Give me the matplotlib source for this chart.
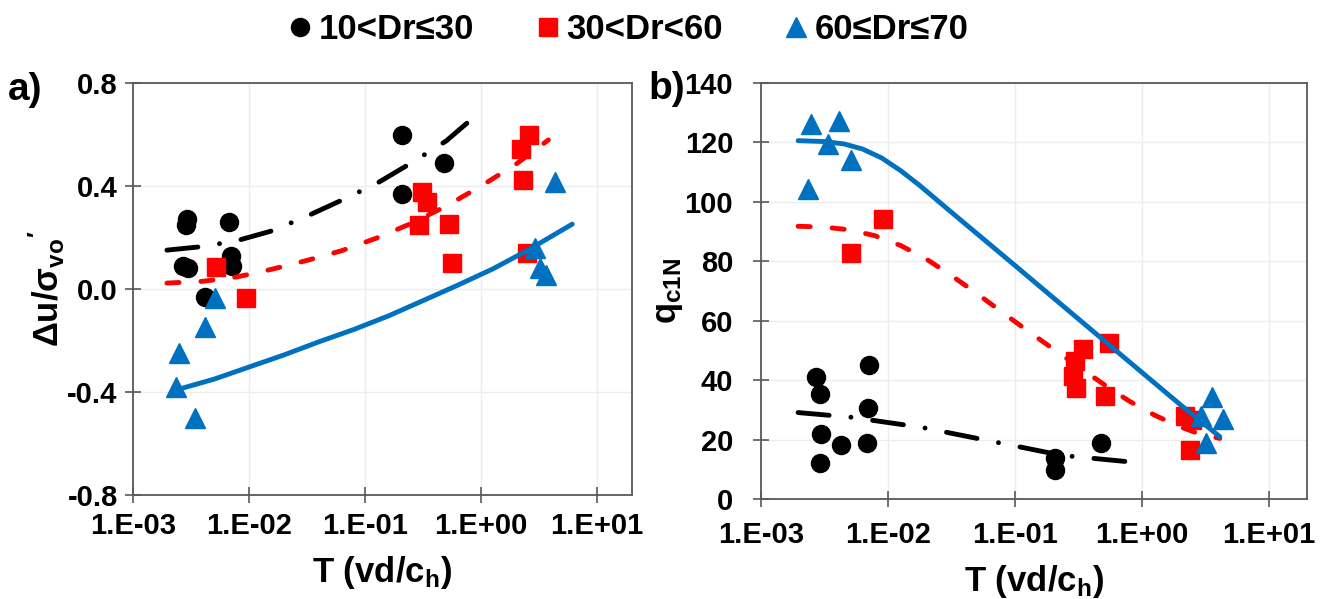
import matplotlib
matplotlib.use('Agg')
import matplotlib.pyplot as plt
from matplotlib.ticker import FixedLocator, NullLocator
import numpy as np

plt.rcParams['font.family'] = ['Liberation Sans', 'DejaVu Sans']
plt.rcParams['font.weight'] = 'bold'
plt.rcParams['axes.labelweight'] = 'bold'
plt.rcParams['mathtext.fontset'] = 'custom'
plt.rcParams['mathtext.rm'] = 'Liberation Sans:bold'
plt.rcParams['mathtext.it'] = 'Liberation Sans:bold'
plt.rcParams['mathtext.bf'] = 'Liberation Sans:bold'

BLACK = '#000000'
RED = '#FF0000'
BLUE = '#0070C0'

series_labels = ['10<Dr\u226430', '30<Dr<60', '60\u2264Dr\u226470']

# ---- panel a) : pore pressure ratio vs normalised velocity
a_loose_T = [2.9e-3, 2.85e-3, 6.7e-3, 2.7e-3, 3.0e-3, 7.0e-3, 7.2e-3, 4.2e-3, 0.208, 0.48, 0.208]
a_loose_du = [0.27, 0.25, 0.26, 0.09, 0.08, 0.13, 0.09, -0.03, 0.60, 0.49, 0.37]
a_med_T = [5.2e-3, 9.4e-3, 0.31, 0.342, 0.29, 0.53, 0.56, 2.6, 2.2, 2.3, 2.5]
a_med_du = [0.085, -0.035, 0.377, 0.338, 0.249, 0.252, 0.10, 0.598, 0.544, 0.423, 0.14]
a_dense_T = [4.35, 2.9, 3.2, 3.6, 5.1e-3, 4.2e-3, 2.5e-3, 2.35e-3, 3.4e-3]
a_dense_du = [0.415, 0.159, 0.082, 0.054, -0.035, -0.148, -0.249, -0.381, -0.501]

# trend lines
a_loose_fit_T = [1.96e-3, 4.0e-3, 7.9e-3, 1.58e-2, 3.16e-2, 6.3e-2, 0.126, 0.251, 0.50, 0.85]
a_loose_fit_du = [0.151, 0.165, 0.188, 0.226, 0.283, 0.345, 0.41, 0.49, 0.575, 0.664]
a_med_fit_T = [1.96e-3, 4.0e-3, 7.9e-3, 1.58e-2, 3.16e-2, 6.3e-2, 0.126, 0.251, 0.50, 1.0, 2.0, 3.8]
a_med_fit_du = [0.023, 0.030, 0.047, 0.077, 0.111, 0.149, 0.198, 0.255, 0.322, 0.40, 0.485, 0.579]
a_dense_fit_T = [2.35e-3, 5.0e-3, 1.0e-2, 2.0e-2, 4.0e-2, 7.9e-2, 0.158, 0.316, 0.63, 1.26, 2.51, 6.1]
a_dense_fit_du = [-0.392, -0.35, -0.303, -0.256, -0.205, -0.158, -0.105, -0.045, 0.015, 0.078, 0.150, 0.252]

# ---- panel b) : normalised cone resistance vs normalised velocity
b_loose_T = [2.7e-3, 2.9e-3, 7.1e-3, 7.0e-3, 2.97e-3, 4.27e-3, 6.8e-3, 2.9e-3, 0.207, 0.207, 0.475]
b_loose_q = [40.9, 35.5, 45.2, 30.5, 21.8, 18.1, 18.8, 12.1, 13.7, 9.7, 18.8]
b_med_T = [9.1e-3, 5.1e-3, 0.343, 0.55, 0.297, 0.286, 0.30, 0.51, 2.2, 2.5, 2.4]
b_med_q = [94.1, 82.7, 50.6, 52.6, 46.5, 41.5, 37.5, 34.8, 28.1, 26.5, 16.4]
b_dense_T = [2.48e-3, 4.1e-3, 3.4e-3, 5.1e-3, 2.35e-3, 3.56, 2.9, 4.35, 3.2]
b_dense_q = [126.3, 127.3, 119.6, 114.0, 104.2, 34.2, 28.1, 27.1, 18.8]

b_loose_fit_T = [1.96e-3, 5.2e-3, 1.85e-2, 6.6e-2, 0.234, 0.85]
b_loose_fit_q = [29.1, 27.5, 24.1, 19.4, 14.7, 12.4]
b_med_fit_T = [1.96e-3, 3.16e-3, 5.0e-3, 7.9e-3, 1.26e-2, 2.0e-2, 3.16e-2, 5.0e-2, 7.9e-2,
               0.126, 0.2, 0.316, 0.5, 0.79, 1.26, 2.0, 2.8, 4.1]
b_med_fit_q = [91.8, 91.5, 90.6, 88.6, 85.3, 80.8, 75.2, 69.2, 62.9,
               56.6, 50.5, 44.5, 38.6, 33.0, 28.2, 24.3, 22.0, 20.4]
b_dense_fit_T = [1.96e-3, 3.16e-3, 4.5e-3, 6.3e-3, 8.9e-3, 1.26e-2, 1.78e-2, 3.16e-2,
                 0.1, 0.316, 1.0, 2.0, 4.1]
b_dense_fit_q = [120.6, 120.3, 119.5, 117.8, 114.8, 110.5, 105.5, 96.5,
                 78.6, 60.6, 42.6, 31.8, 21.0]

xticks = [1e-3, 1e-2, 1e-1, 1e0, 1e1]
xticklabels = ['1.E-03', '1.E-02', '1.E-01', '1.E+00', '1.E+01']

fig = plt.figure(figsize=(13.26, 5.99), dpi=100)
ax1 = fig.add_axes([0.1003, 0.1736, 0.3763, 0.6878])
ax2 = fig.add_axes([0.5739, 0.1669, 0.4118, 0.6945])

lw = 3.5
dashdot = (0, (6.4, 4.5, 0.01, 4.5))
dashed = (0, (2.5, 4.5))


def style_axes(ax):
    ax.set_xscale('log')
    ax.set_xlim(1e-3, 10 ** 1.3)
    ax.xaxis.set_major_locator(FixedLocator(xticks))
    ax.xaxis.set_minor_locator(NullLocator())
    ax.set_xticklabels(xticklabels)
    ax.grid(True, color='#ECECEC', lw=1.0, zorder=0)
    ax.set_axisbelow(True)
    for s in ax.spines.values():
        s.set_color('#595959')
        s.set_linewidth(1.3)
    ax.tick_params(direction='inout', length=12, width=1.2, color='#595959', labelsize=21)
    ax.set_xlabel('T (vd/c$_h$)', fontsize=25, fontweight='bold', labelpad=10)


def draw(ax, loose, med, dense, fits):
    ax.plot(fits[0][0], fits[0][1], color=BLACK, lw=lw, ls=dashdot, dash_capstyle='round', zorder=4)
    ax.plot(fits[1][0], fits[1][1], color=RED, lw=lw, ls=dashed, dash_capstyle='round', zorder=4)
    ax.plot(fits[2][0], fits[2][1], color=BLUE, lw=lw, solid_capstyle='round',
            solid_joinstyle='round', zorder=4)
    ax.plot(loose[0], loose[1], ls='None', marker='o', ms=13, color=BLACK, zorder=3)
    ax.plot(med[0], med[1], ls='None', marker='s', ms=13, color=RED, zorder=3)
    ax.plot(dense[0], dense[1], ls='None', marker='^', ms=14, color=BLUE, zorder=3)


draw(ax1, (a_loose_T, a_loose_du), (a_med_T, a_med_du), (a_dense_T, a_dense_du),
     [(a_loose_fit_T, a_loose_fit_du), (a_med_fit_T, a_med_fit_du), (a_dense_fit_T, a_dense_fit_du)])
draw(ax2, (b_loose_T, b_loose_q), (b_med_T, b_med_q), (b_dense_T, b_dense_q),
     [(b_loose_fit_T, b_loose_fit_q), (b_med_fit_T, b_med_fit_q), (b_dense_fit_T, b_dense_fit_q)])

style_axes(ax1)
ax1.set_ylim(-0.8, 0.8)
ax1.yaxis.set_major_locator(FixedLocator([-0.8, -0.4, 0.0, 0.4, 0.8]))
ax1.set_yticklabels(['-0.8', '-0.4', '0.0', '0.4', '0.8'])
ax1.tick_params(axis='y', pad=5)
ax1.tick_params(axis='x', pad=6)
ax1.set_ylabel(r"$\Delta u/\sigma_{vo}{}^{\prime}$", fontsize=25, labelpad=0)

style_axes(ax2)
ax2.set_ylim(0, 140)
ax2.yaxis.set_major_locator(FixedLocator(list(range(0, 141, 20))))
ax2.tick_params(axis='y', pad=14)
ax2.tick_params(axis='x', pad=10)
ax2.set_ylabel(r"$q_{c1N}$", fontsize=25, labelpad=0)

fig.text(0.006, 0.833, 'a)', fontsize=28, fontweight='bold')
fig.text(0.489, 0.835, 'b)', fontsize=28, fontweight='bold')

handles = [
    plt.Line2D([], [], ls='None', marker='o', ms=13, color=BLACK),
    plt.Line2D([], [], ls='None', marker='s', ms=13, color=RED),
    plt.Line2D([], [], ls='None', marker='^', ms=14, color=BLUE),
]
fig.legend(handles, series_labels, loc='center', bbox_to_anchor=(0.472, 0.95), ncol=3,
           frameon=False, fontsize=25, handletextpad=0.05, columnspacing=1.6, handlelength=1.0)

fig.savefig('out.png', dpi=100)
